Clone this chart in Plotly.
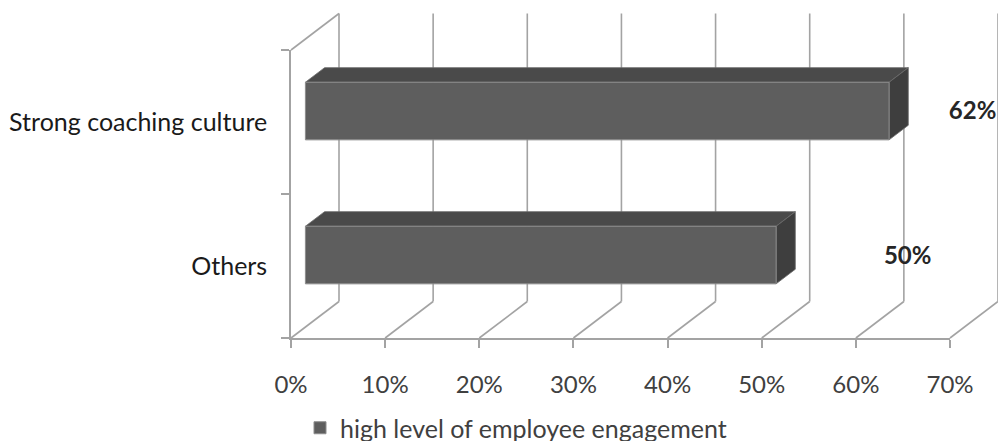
import plotly.graph_objects as go

# ---------------- data ----------------
categories = ["Others", "Strong coaching culture"]
values = [50, 62]
series_name = "high level of employee engagement"
x_ticks = [0, 10, 20, 30, 40, 50, 60, 70]

# ---------------- style / geometry ----------------
W, H = 998, 441
FONT = "Lato"
GRID = "#a3a3a3"
FRONT = "#5e5e5e"
TOP = "#4a4a4a"
SIDE = "#3e3e3e"

# pixel placement of the front plane
PX_X0, PX_X1 = 291, 950        # 0% .. 70%
PX_Y0, PX_Y1 = 338, 50         # floor .. top of front plane
X_MAX = 70
ppu_x = (PX_X1 - PX_X0) / X_MAX
ppu_y = (PX_Y0 - PX_Y1) / len(categories)
DEPTH_PX = (48, 36.5)
DX = DEPTH_PX[0] / ppu_x
DY = DEPTH_PX[1] / ppu_y
BAR_D0, BAR_D1 = 0.3, 0.7      # bar depth span
BAR_HALF = 0.2                 # half bar thickness (category units)
LABEL_DX = [15.5, 10.4]        # label offsets (percent units)
LABEL_DY = [0.056, 0.062]

def P(v, y, d):
    return v + d * DX, y + d * DY

fig = go.Figure()

def line(p, q):
    fig.add_trace(go.Scatter(x=[p[0], q[0]], y=[p[1], q[1]], mode="lines",
                             line=dict(color=GRID, width=1.6),
                             hoverinfo="skip", showlegend=False))

ybot, ytop = -0.5, len(categories) - 0.5
for v in x_ticks:
    line(P(v, ybot, 1), P(v, ytop, 1))      # back wall verticals
    line(P(v, ybot, 0), P(v, ybot, 1))      # floor diagonals
line(P(0, ytop, 0), P(0, ytop, 1))          # side wall top edge

# top and side faces of the bars
for i, v in enumerate(values):
    yt, yb = i + BAR_HALF, i - BAR_HALF
    top = [P(0, yt, BAR_D0), P(v, yt, BAR_D0), P(v, yt, BAR_D1), P(0, yt, BAR_D1)]
    side = [P(v, yb, BAR_D0), P(v, yt, BAR_D0), P(v, yt, BAR_D1), P(v, yb, BAR_D1)]
    for poly, col in ((top, TOP), (side, SIDE)):
        xs = [p[0] for p in poly] + [poly[0][0]]
        ys = [p[1] for p in poly] + [poly[0][1]]
        fig.add_trace(go.Scatter(x=xs, y=ys, fill="toself", fillcolor=col, mode="lines",
                                 line=dict(color="#6a6a6a", width=0.8),
                                 hoverinfo="skip", showlegend=False))

# value labels
fig.add_trace(go.Scatter(
    x=[v + LABEL_DX[i] for i, v in enumerate(values)],
    y=[i + LABEL_DY[i] for i in range(len(values))],
    mode="text", text=[f"<b>{v}%</b>" for v in values],
    textfont=dict(family=FONT, size=24, color="#262626"),
    hoverinfo="skip", showlegend=False, cliponaxis=False))

# front faces on the front-plane axes
fig.add_trace(go.Bar(
    x=values, y=categories, orientation="h", base=BAR_D0 * DX,
    width=2 * BAR_HALF, offset=-BAR_HALF + BAR_D0 * DY,
    marker=dict(color=FRONT, line=dict(color="#8c8c8c", width=1)),
    name=series_name, xaxis="x2", yaxis="y2", hoverinfo="skip"))

x_range = [-PX_X0 / ppu_x, (W - PX_X0) / ppu_x]
y_range = [ybot - (H - PX_Y0) / ppu_y, ytop + PX_Y1 / ppu_y]

fig.update_layout(
    width=W, height=H, margin=dict(l=0, r=0, t=0, b=0, pad=0, autoexpand=False),
    paper_bgcolor="white", plot_bgcolor="rgba(0,0,0,0)",
    showlegend=True,
    font=dict(family=FONT, size=24, color="#404040"),
    xaxis=dict(range=x_range, domain=[0, 1], visible=False, fixedrange=True, automargin=False),
    yaxis=dict(range=y_range, domain=[0, 1], visible=False, fixedrange=True, automargin=False),
    xaxis2=dict(range=[0, X_MAX], domain=[PX_X0 / W, PX_X1 / W], anchor="y2",
                tickvals=x_ticks, ticktext=[f"{t}%" for t in x_ticks],
                ticks="outside", ticklen=8, tickcolor=GRID, tickwidth=1.6,
                showline=True, linecolor=GRID, linewidth=1.6, showgrid=False,
                zeroline=False, ticklabelstandoff=16, automargin=False,
                tickfont=dict(family=FONT, size=24, color="#404040")),
    yaxis2=dict(type="category", categoryarray=categories, range=[-0.5, len(categories) - 0.5],
                domain=[(H - PX_Y0) / H, (H - PX_Y1) / H], anchor="x2",
                tickson="boundaries", ticks="outside", ticklen=8, tickcolor=GRID,
                tickwidth=1.6, showline=True, linecolor=GRID, linewidth=1.6,
                showgrid=False, ticklabelstandoff=17, automargin=False,
                tickfont=dict(family=FONT, size=25, color="#1a1a1a")),
    legend=dict(orientation="h", x=300 / W, y=(H - 428) / H, xanchor="left", yanchor="middle",
                font=dict(family=FONT, size=25, color="#404040"), bgcolor="rgba(0,0,0,0)"),
)

fig.write_html("out.html")
